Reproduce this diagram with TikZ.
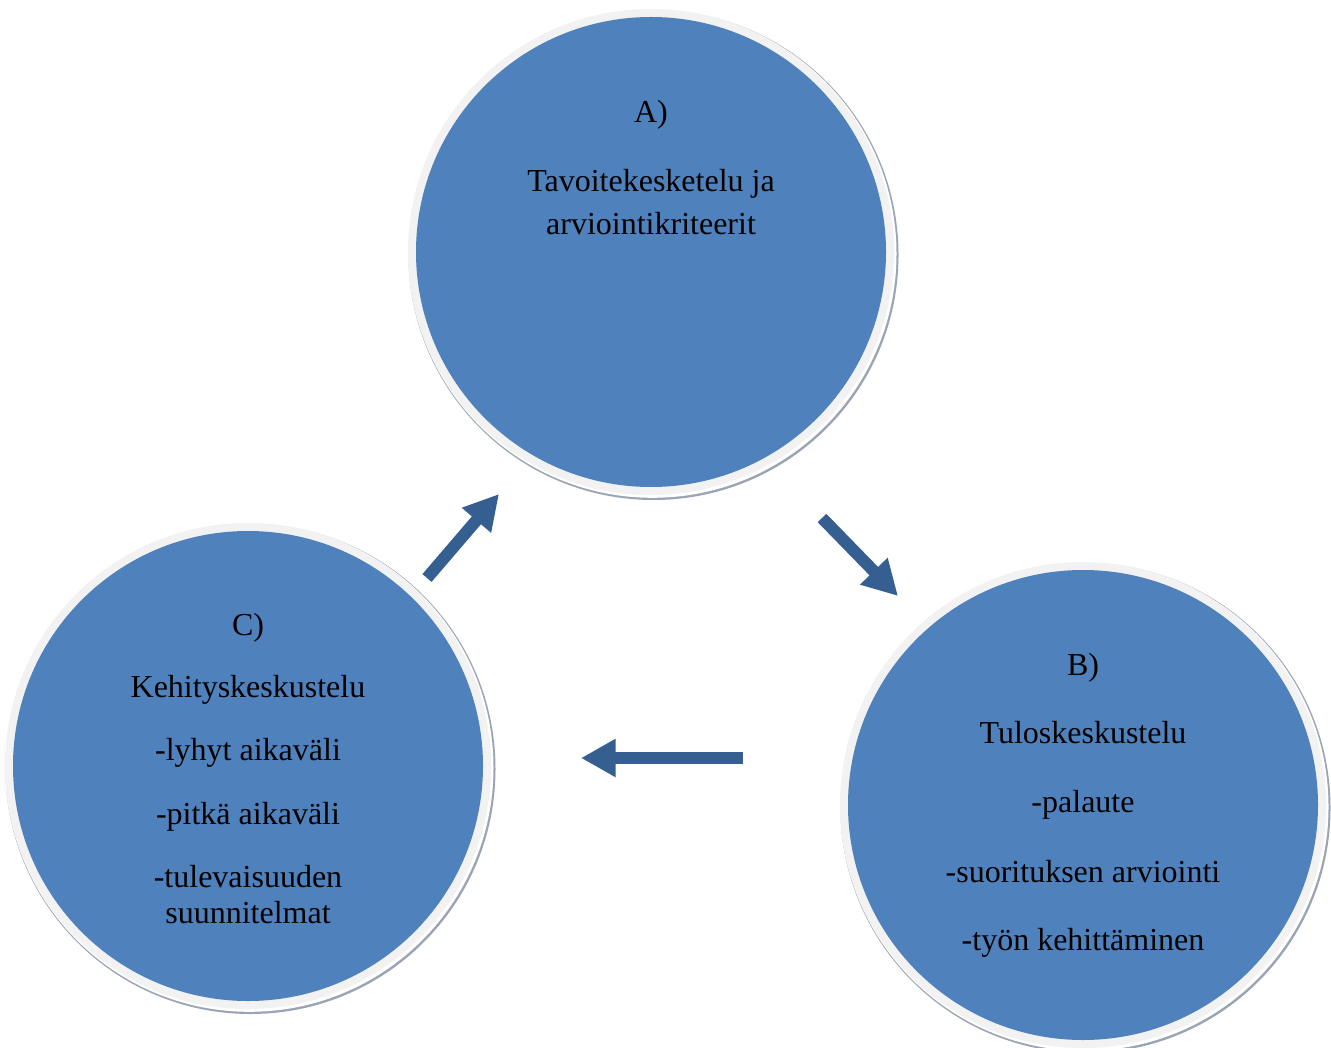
\documentclass[tikz,border=0pt]{standalone}
\usepackage{fontspec}
\setmainfont{Liberation Serif}
\usetikzlibrary{arrows.meta}
\definecolor{discblue}{HTML}{4F81BD}
\definecolor{ringgray}{HTML}{F2F2F2}
\definecolor{shadowgray}{HTML}{9AA4B4}
\definecolor{arrowblue}{HTML}{365F91}
\tikzset{
  disc/.style={circle, fill=discblue, minimum size=352.5pt, inner sep=0pt},
  txt/.style={anchor=base, font=\fontsize{24pt}{28pt}\selectfont, text=black, inner sep=0pt},
  flow/.style={draw=arrowblue, line width=9pt,
    -{Triangle[width=27pt, length=26pt]}},
}
% draws ring, soft shadow and blue disc around a given centre
\newcommand{\ringdisc}[3]{%
  \fill[shadowgray] (#1+2.5,#2+3) circle[radius=245];
  \fill[white] (#1+1.5,#2+1.8) circle[radius=244];
  \fill[ringgray] (#1,#2) circle[radius=243];
  \node[disc] (#3) at (#1,#2) {};
}
\begin{document}
\begin{tikzpicture}[x=0.75pt, y=-0.75pt]
  \useasboundingbox (0,0) rectangle (1331,1048);
  \fill[white] (0,0) rectangle (1331,1048);

  % the three discs
  \ringdisc{651}{252}{discA}
  \ringdisc{1083}{805}{discB}
  \ringdisc{248}{766}{discC}

  % disc A
  \node[txt] (a1) at (651,123) {A)};
  \node[txt] (a2) at (651,192) {Tavoitekesketelu ja};
  \node[txt] (a3) at (651,235) {arviointikriteerit};

  % disc B
  \node[txt] (b1) at (1083,675) {B)};
  \node[txt] (b2) at (1083,743) {Tuloskeskustelu};
  \node[txt] (b3) at (1083,812) {-palaute};
  \node[txt] (b4) at (1083,882) {-suorituksen arviointi};
  \node[txt] (b5) at (1083,950) {-työn kehittäminen};

  % disc C
  \node[txt] (c1) at (248,635) {C)};
  \node[txt] (c2) at (248,697) {Kehityskeskustelu};
  \node[txt] (c3) at (248,760) {-lyhyt aikaväli};
  \node[txt] (c4) at (248,824) {-pitkä aikaväli};
  \node[txt] (c5) at (248,887) {-tulevaisuuden};
  \node[txt] (c6) at (248,923) {suunnitelmat};

  % cycle arrows
  \coordinate (ca0) at (427,578);
  \coordinate (ca1) at (499,494);
  \coordinate (ab0) at (822,518);
  \coordinate (ab1) at (898,596);
  \coordinate (bc0) at (743,758);
  \coordinate (bc1) at (581,758);
  \draw[flow] (ca0) -- (ca1);
  \draw[flow] (ab0) -- (ab1);
  \draw[flow] (bc0) -- (bc1);
\end{tikzpicture}
\end{document}
